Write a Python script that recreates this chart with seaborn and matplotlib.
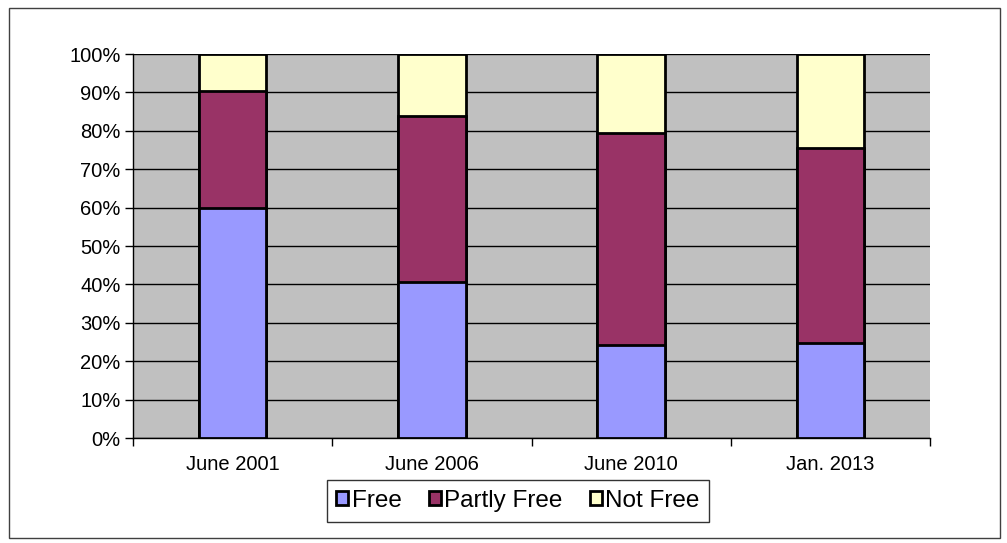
import matplotlib
matplotlib.use("Agg")
import matplotlib.pyplot as plt
import seaborn as sns
import pandas as pd
import numpy as np
from matplotlib.patches import Rectangle, Patch
from matplotlib.ticker import FixedLocator, PercentFormatter

categories = ["June 2001", "June 2006", "June 2010", "Jan. 2013"]
free = [60.0, 40.7, 24.1, 24.8]
partly_free = [30.4, 43.1, 55.2, 50.6]
not_free = [9.6, 16.2, 20.7, 24.6]
series_names = ["Free", "Partly Free", "Not Free"]
colors = ["#9999FF", "#993366", "#FFFFCC"]

sns.set_style("white")
plt.rcParams["font.family"] = ["Liberation Sans", "DejaVu Sans"]
plt.rcParams["text.color"] = "black"
plt.rcParams["xtick.color"] = "black"
plt.rcParams["ytick.color"] = "black"

df = pd.DataFrame({"cat": categories, "Free": free,
                   "Partly Free": partly_free, "Not Free": not_free})
cum = df[series_names].cumsum(axis=1)

fig = plt.figure(figsize=(10.07, 5.43), dpi=100)
ax = fig.add_axes([133/1007, 1-438/543, (930-133)/1007, (438-54)/543])
ax.set_facecolor("#C0C0C0")

# stacked: draw tallest cumulative first
for name, col in zip(reversed(series_names), reversed(colors)):
    sns.barplot(x=df["cat"], y=cum[name], color=col, width=0.34,
                edgecolor="black", linewidth=2, ax=ax, saturation=1, zorder=3)

ax.set_ylim(0, 100)
ax.set_xlim(-0.5, 3.5)
ax.set_yticks(np.arange(0, 101, 10))
ax.yaxis.set_major_formatter(PercentFormatter(decimals=0))
ax.yaxis.grid(True, color="black", linewidth=1)
ax.set_axisbelow(True)
ax.set_xlabel("")
ax.set_ylabel("")
for s in ["top", "right"]:
    ax.spines[s].set_visible(False)
for s in ["left", "bottom"]:
    ax.spines[s].set_color("black")
    ax.spines[s].set_linewidth(1)
ax.tick_params(axis="y", which="major", length=6, width=1, color="black",
               labelsize=14.5, pad=3, left=True, labelcolor="black")
ax.tick_params(axis="x", which="major", length=0, labelsize=14.5, pad=12,
               labelcolor="black")
ax.xaxis.set_minor_locator(FixedLocator([-0.5, 0.5, 1.5, 2.5, 3.5]))
ax.tick_params(axis="x", which="minor", length=6, width=1, color="black", bottom=True)

handles = [Patch(facecolor=c, edgecolor="black", linewidth=2, label=n)
           for n, c in zip(series_names, colors)]
leg = fig.legend(handles=handles, loc="center", bbox_to_anchor=(518/1007, 1-501/543),
                 ncol=3, frameon=True, fontsize=17.5, handlelength=0.5,
                 handleheight=0.5, handletextpad=0.15, columnspacing=1.1,
                 borderpad=0.4, fancybox=False, edgecolor="black")
leg.get_frame().set_linewidth(1)
for t in leg.get_texts():
    t.set_color("black")

fig.patches.append(Rectangle((9/1007, 1-538/543), (1000-9)/1007, (538-8)/543,
                             transform=fig.transFigure, fill=False,
                             edgecolor="#404040", linewidth=1))

fig.savefig("out.png", dpi=100)
